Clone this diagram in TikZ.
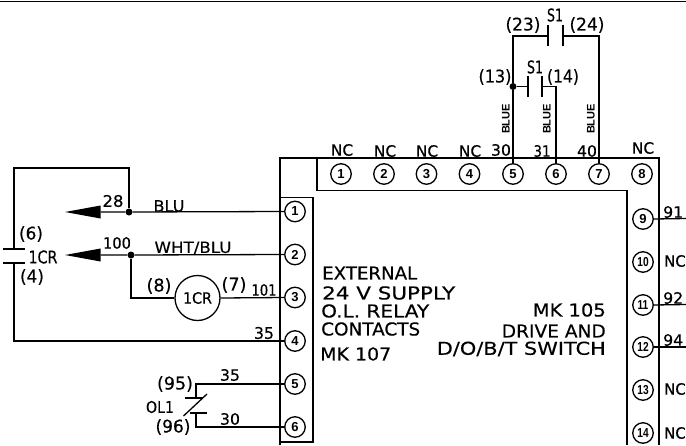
\documentclass[tikz,border=0pt]{standalone}
\usepackage{fontspec}
\usepackage{graphicx}
\setmainfont[FakeBold=0.3]{DejaVu Sans}
\newfontfamily\pinfont{Liberation Sans}
\newcommand{\fs}[1]{\fontsize{#1}{#1}\selectfont}
\newcommand{\fw}[2]{\resizebox{#1pt}{\height}{#2}}
\tikzset{
  wire/.style={draw=black,line width=1.3pt,line join=miter},
  heavy/.style={draw=black,line width=1.6pt},
  pin/.style={circle,draw=black,line width=1.3pt,fill=white,minimum size=20.5pt,inner sep=0pt,font=\pinfont\fs{13}\bfseries},
  dot/.style={circle,fill=black,minimum size=7pt,inner sep=0pt},
  lbl/.style={inner sep=0pt,font=\fs{15.5}},
  par/.style={inner sep=0pt,font=\fs{17.5}},
  big/.style={inner sep=0pt,font=\fs{17.8}},
  blue lbl/.style={inner sep=0pt,rotate=90,font=\pinfont\fs{11}\bfseries},
  head/.style={fill=black},
}
\begin{document}
\begin{tikzpicture}[x=1pt,y=-1pt]
\useasboundingbox (0,0) rectangle (686,445);
\fill[white] (0,0) rectangle (686,445);
% frames
\draw[heavy] (0,1.5) -- (686,1.5);
\draw[heavy] (280,445) -- (280,158) -- (659,158) -- (659,445);
\draw[heavy] (317,158) -- (317,190.5) -- (627,190.5) -- (627,445);
\draw[heavy] (280,197.5) -- (313,197.5) -- (313,442) -- (280,442);
% left pins
\foreach \n/\y in {1/211.5,2/254.5,3/297.5,4/341,5/384,6/427}
  \node[pin] (L\n) at (295,\y) {\n};
% top pins
\foreach \n/\x in {1/341,2/384,3/426.5,4/469.5,5/513,6/556,7/599,8/642}
  \node[pin] (T\n) at (\x,174) {\n};
% right pins
\node[pin] (R9) at (643,219) {9};
\foreach \n/\y in {10/262,11/305,12/347,13/390,14/433}
  \node[pin] (R\n) at (643,\y) {\scalebox{.78}[1]{\n}};
% dots and coil
\node[dot] (d1) at (129,212) {};
\node[dot] (d2) at (131,255) {};
\node[dot] (d3) at (513,86.5) {};
\node[circle,draw=black,line width=1.3pt,minimum size=45pt,inner sep=0pt,font=\fs{15.5}] (coil) at (197.5,298) {\fw{29}{1CR}};
% named free ends
\coordinate (a1) at (100.5,212); \coordinate (a1t) at (65,212);
\coordinate (a2) at (100.5,255); \coordinate (a2t) at (65,255);
\coordinate (c1) at (14,249); \coordinate (c2) at (14,263);
\coordinate (e9) at (686,218.5); \coordinate (e11) at (686,304.5); \coordinate (e12) at (686,347);
% arrows
\fill[head] (a1t) -- (100.5,205.5) -- (100.5,218.5) -- cycle;
\fill[head] (a2t) -- (100.5,248.5) -- (100.5,261.5) -- cycle;
% wires
\draw[wire] (L1.west) -- (d1) -- (a1);
\draw[wire] (L2.west) -- (d2) -- (a2);
\draw[wire] (d1) |- (14,168) -- (c1);
\draw[wire] (3,249) -- (25,249);
\draw[wire] (3,263) -- (25,263);
\draw[wire] (c2) |- (L4.west);
\draw[wire] (d2) |- (coil.west);
\draw[wire] (coil.east) -- (L3.west);
% OL1
\draw[wire] (L5.west) -| (196,398);
\draw[wire] (185,398) -- (203,398);
\draw[wire] (183.5,416) -- (207,394);
\draw[wire] (190,413) -- (207,413);
\draw[wire] (196,413) |- (L6.west);
% switches
\draw[wire] (T5.north) -- (d3) -- (513,36) -- (548,36);
\draw[wire] (548,25) -- (548,46);
\draw[wire] (563,25) -- (563,46);
\draw[wire] (563,36) -| (T7.north);
\draw[wire] (d3) -- (528,86.5);
\draw[wire] (528,76) -- (528,97);
\draw[wire] (542,76) -- (542,97);
\draw[wire] (542,86.5) -| (T6.north);
% right wires
\draw[wire] (R9.east) -- (e9);
\draw[wire] (R11.east) -- (e11);
\draw[wire] (R12.east) -- (e12);
% labels
\node[lbl,font=\fs{16}] (t28) at (113,201) {\fw{21}{28}};
\node[lbl] (tblu) at (169,206) {\fw{31}{BLU}};
\node[lbl] (t100) at (117,243) {\fw{28}{100}};
\node[lbl] (twb) at (193,248) {\fw{77}{WHT/BLU}};
\node[par] (t6) at (31,234) {\fw{24}{(6)}};
\node[par] (t1cr) at (43,257) {\fw{29}{1CR}};
\node[par] (t4) at (32,277) {\fw{24}{(4)}};
\node[par] (t8) at (159,286) {\fw{25}{(8)}};
\node[par] (t7) at (234,285) {\fw{25}{(7)}};
\node[lbl] (t101) at (264,290) {\fw{25}{101}};
\node[lbl,font=\fs{16}] (t35a) at (264,333) {\fw{20}{35}};
\node[lbl] (t35b) at (230,375) {\fw{20}{35}};
\node[par] (t95) at (175,384) {\fw{36}{(95)}};
\node[lbl,font=\fs{16}] (tol) at (160,407) {\fw{28}{OL1}};
\node[par] (t96) at (173,427) {\fw{35}{(96)}};
\node[lbl] (t30b) at (230,419) {\fw{20}{30}};
\node[par] (t23) at (523,25) {\fw{35}{(23)}};
\node[par] (ts1a) at (555,15) {\fw{16}{S1}};
\node[par] (t24) at (587,25) {\fw{35}{(24)}};
\node[par] (t13) at (495,77) {\fw{33}{(13)}};
\node[par] (ts1b) at (535,67) {\fw{16}{S1}};
\node[par] (t14) at (563,77) {\fw{32}{(14)}};
\node[blue lbl] (b1) at (506,119) {BLUE};
\node[blue lbl] (b2) at (547,119) {BLUE};
\node[blue lbl] (b3) at (591,119) {BLUE};
\node[lbl] (n1) at (342,150) {NC};
\node[lbl] (n2) at (385,151) {NC};
\node[lbl] (n3) at (427,151) {NC};
\node[lbl] (n4) at (470,151) {NC};
\node[lbl] (t30) at (501,150) {\fw{20}{30}};
\node[lbl] (t31) at (542,151) {\fw{17}{31}};
\node[lbl] (t40) at (587,151) {\fw{20}{40}};
\node[lbl] (n8) at (643,148) {NC};
\node[big,anchor=west] (x1) at (322,273) {\fw{95}{EXTERNAL}};
\node[big,anchor=west] (x2) at (322,293) {\fw{133}{24 V SUPPLY}};
\node[big,anchor=west] (x3) at (321,311) {\fw{108}{O.L. RELAY}};
\node[big,anchor=west] (x4) at (321,329) {\fw{99}{CONTACTS}};
\node[big,anchor=west] (x5) at (320,354) {\fw{71}{MK 107}};
\node[big,anchor=east] (y1) at (606,310) {\fw{73}{MK 105}};
\node[big,anchor=east] (y2) at (606,331) {\fw{104}{DRIVE AND}};
\node[big,anchor=east] (y3) at (606,349) {\fw{169}{D/O/B/T SWITCH}};
\node[lbl,anchor=west] (r9) at (663,212) {\fw{20}{91}};
\node[lbl,anchor=west] (r10) at (664,261) {\fw{21.5}{NC}};
\node[lbl,anchor=west] (r11) at (663,298) {\fw{20}{92}};
\node[lbl,anchor=west] (r12) at (663,340) {\fw{20}{94}};
\node[lbl,anchor=west] (r13) at (664,389) {\fw{21.5}{NC}};
\node[lbl,anchor=west] (r14) at (664,433) {\fw{21.5}{NC}};
\end{tikzpicture}
\end{document}
